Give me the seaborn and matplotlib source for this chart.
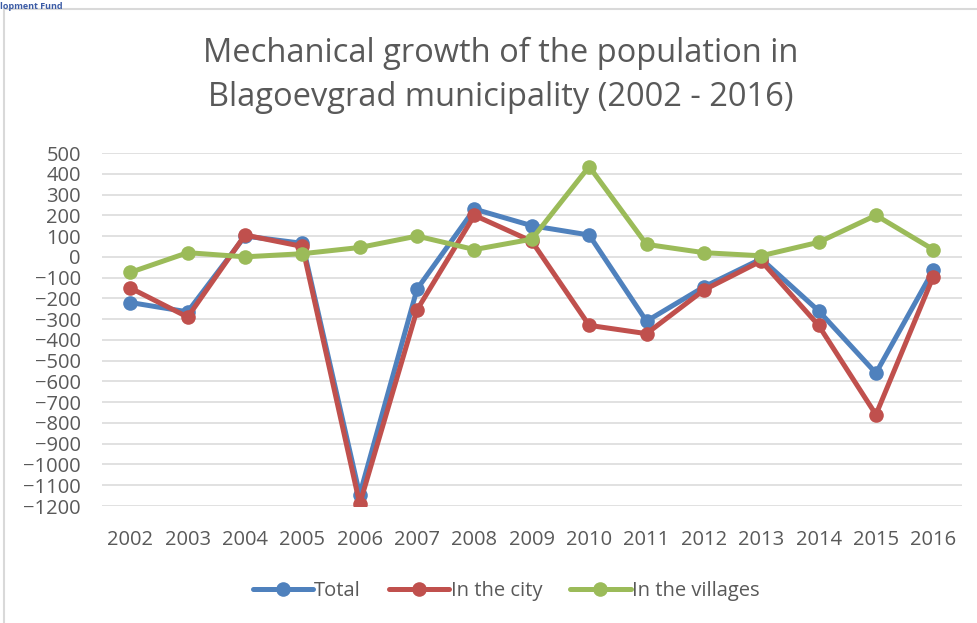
import matplotlib

matplotlib.use("Agg")
import matplotlib.pyplot as plt
import seaborn as sns
import pandas as pd

# Data
years = list(range(2002, 2017))
total = [-220, -265, 100, 65, -1145, -155, 230, 150, 105, -310, -145, -10, -260, -560, -65]
city = [-150, -290, 105, 50, -1190, -255, 200, 75, -330, -370, -160, -20, -330, -760, -95]
villages = [-75, 20, 0, 15, 45, 100, 35, 85, 435, 60, 20, 5, 70, 200, 35]
series_names = ["Total", "In the city", "In the villages"]
colors = ["#4F81BD", "#C0504D", "#9BBB59"]
y_ticks = list(range(-1200, 501, 100))

sns.set_theme(style="white")
plt.rcParams["font.family"] = ["Open Sans", "DejaVu Sans"]
text_color = "#595959"

df = pd.DataFrame({"year": years, "Total": total,
                   "In the city": city, "In the villages": villages})
long = df.melt(id_vars="year", var_name="series", value_name="value")

fig = plt.figure(figsize=(9.78, 6.23), dpi=100)
ax = fig.add_axes([0.1039, 0.1878, 0.8797, 0.5666])

for name, color in zip(series_names, colors):
    sub = long[long["series"] == name]
    sns.lineplot(data=sub, x="year", y="value", ax=ax, color=color,
                 linewidth=3.6, marker="o", markersize=10.5,
                 markeredgewidth=0, label=name)

ax.set_xlim(years[0] - 0.5, years[-1] + 0.5)
ax.set_ylim(-1200, 500)
ax.set_yticks(y_ticks)
ax.set_xticks(years)
ax.set_xticklabels([str(y) for y in years])
ax.yaxis.grid(True, color="#D9D9D9", linewidth=1.1)
ax.set_axisbelow(True)
for s in ax.spines.values():
    s.set_visible(False)
ax.tick_params(axis="both", length=0, labelsize=14.5, colors=text_color)
ax.tick_params(axis="x", pad=17)
ax.tick_params(axis="y", pad=15)
ax.set_xlabel("")
ax.set_ylabel("")

ax.legend(loc="upper center", bbox_to_anchor=(0.47, -0.16), ncol=3,
          frameon=False, fontsize=14.5, handlelength=3.0,
          handletextpad=0.05, columnspacing=1.4, labelcolor=text_color)

fig.text(0.512, 0.8796, "Mechanical growth of the population in\n"
         "Blagoevgrad municipality (2002 - 2016)",
         ha="center", va="center", fontsize=23.5, color=text_color,
         linespacing=1.45)

# outer chart frame and clipped header fragment
fig.patches.append(plt.Rectangle((4 / 978, -0.1), 1.2, 1.1 - 9 / 623,
                                 transform=fig.transFigure, fill=False,
                                 edgecolor="#D9D9D9", linewidth=1.5))
fig.text(0.0, 0.997, "lopment Fund", ha="left", va="top", fontsize=6.5,
         fontweight="bold", color="#3B5BA5")

fig.savefig("out.png", dpi=100, facecolor="white")
